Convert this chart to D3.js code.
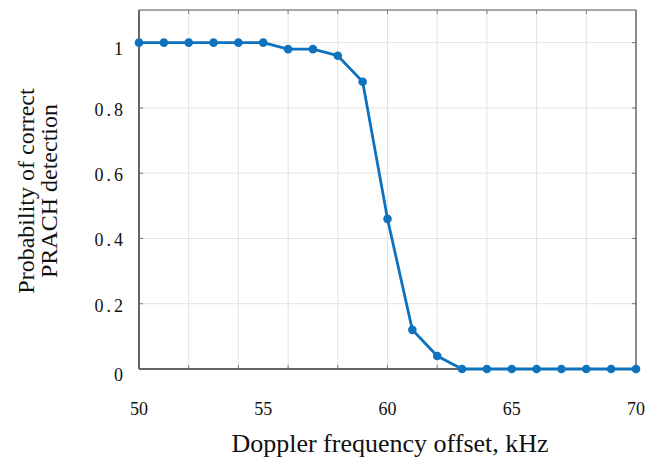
<!DOCTYPE html>
<html>
<head>
<meta charset="utf-8">
<script src="https://cdn.jsdelivr.net/npm/d3@7"></script>
<style>
body{margin:0;background:#fff;}
text{font-family:"Liberation Serif","Times New Roman",serif;fill:#111;}
</style>
</head>
<body>
<div id="chart"></div>
<script>
// doppler offset (kHz) and detection probability
var freq=[50,51,52,53,54,55,56,57,58,59,60,61,62,63,64,65,66,67,68,69,70];
var prob=[1,1,1,1,1,1,0.98,0.98,0.96,0.88,0.46,0.12,0.04,0,0,0,0,0,0,0,0];
var yTicks=[0,0.2,0.4,0.6,0.8,1];
var xTicks=[50,55,60,65,70];
var xGrid=[52,54,56,58,60,62,64,66,68];

var width=662,height=457;
var padL=139,padR=636,padT=10,padB=369;

var svg=d3.select("#chart").append("svg").attr("width",width).attr("height",height);

var x=d3.scaleLinear().domain([50,70]).range([padL,padR]);
var y=d3.scaleLinear().domain([0,1.1]).range([padB,padT]);

// grid
svg.append("g").selectAll("line").data(xGrid).enter().append("line")
  .attr("x1",d=>x(d)).attr("x2",d=>x(d)).attr("y1",padT).attr("y2",padB)
  .attr("stroke","#e3e3e3").attr("stroke-width",1);
svg.append("g").selectAll("line").data(yTicks.slice(1)).enter().append("line")
  .attr("x1",padL).attr("x2",padR).attr("y1",d=>y(d)).attr("y2",d=>y(d))
  .attr("stroke","#e3e3e3").attr("stroke-width",1);

// small inner ticks on all four sides
var tk=4;
svg.append("g").selectAll("line").data(xGrid).enter().append("line")
  .attr("x1",d=>x(d)).attr("x2",d=>x(d)).attr("y1",padB).attr("y2",padB-tk)
  .attr("stroke","#777");
svg.append("g").selectAll("line").data(xGrid).enter().append("line")
  .attr("x1",d=>x(d)).attr("x2",d=>x(d)).attr("y1",padT).attr("y2",padT+tk)
  .attr("stroke","#777");
svg.append("g").selectAll("line").data(yTicks.slice(1)).enter().append("line")
  .attr("x1",padL).attr("x2",padL+tk).attr("y1",d=>y(d)).attr("y2",d=>y(d))
  .attr("stroke","#777");
svg.append("g").selectAll("line").data(yTicks.slice(1)).enter().append("line")
  .attr("x1",padR).attr("x2",padR-tk).attr("y1",d=>y(d)).attr("y2",d=>y(d))
  .attr("stroke","#777");

// frame
svg.append("line").attr("x1",padL).attr("x2",padR).attr("y1",padT).attr("y2",padT).attr("stroke","#8a8a8a").attr("stroke-width",1.5);
svg.append("line").attr("x1",padR).attr("x2",padR).attr("y1",padT).attr("y2",padB).attr("stroke","#666").attr("stroke-width",1.5);
svg.append("line").attr("x1",padL).attr("x2",padL).attr("y1",padT).attr("y2",padB).attr("stroke","#666").attr("stroke-width",2);
svg.append("line").attr("x1",padL).attr("x2",padR).attr("y1",padB).attr("y2",padB).attr("stroke","#666").attr("stroke-width",2);

// tick labels
svg.append("g").selectAll("text").data(yTicks).enter().append("text")
  .attr("x",126).attr("y",d=>y(d)+(d==0||d==1?12:8))
  .attr("text-anchor","end").attr("font-size",18).style("letter-spacing","3px")
  .text(d=>d==0||d==1?d:d3.format(".1f")(d));
svg.append("g").selectAll("text").data(xTicks).enter().append("text")
  .attr("x",d=>x(d)).attr("y",415)
  .attr("text-anchor","middle").attr("font-size",18)
  .text(d=>d);

// line + markers
var blue="#0f72bd";
svg.append("path").datum(prob)
  .attr("fill","none").attr("stroke",blue).attr("stroke-width",2.8)
  .attr("stroke-linejoin","round")
  .attr("d",d3.line().x((d,i)=>x(freq[i])).y(d=>y(d)));
svg.append("g").selectAll("circle").data(prob).enter().append("circle")
  .attr("cx",(d,i)=>x(freq[i])).attr("cy",d=>y(d)).attr("r",4.3)
  .attr("fill",blue);

// axis titles
svg.append("text").attr("x",390).attr("y",452).attr("text-anchor","middle")
  .attr("font-size",26).text("Doppler frequency offset, kHz");
var yl=svg.append("text").attr("transform","translate(0,191) rotate(-90)")
  .attr("text-anchor","middle").attr("font-size",24);
yl.append("tspan").attr("x",0).attr("y",34).text("Probability of correct");
yl.append("tspan").attr("x",0).attr("y",57).text("PRACH detection");
</script>
</body>
</html>
